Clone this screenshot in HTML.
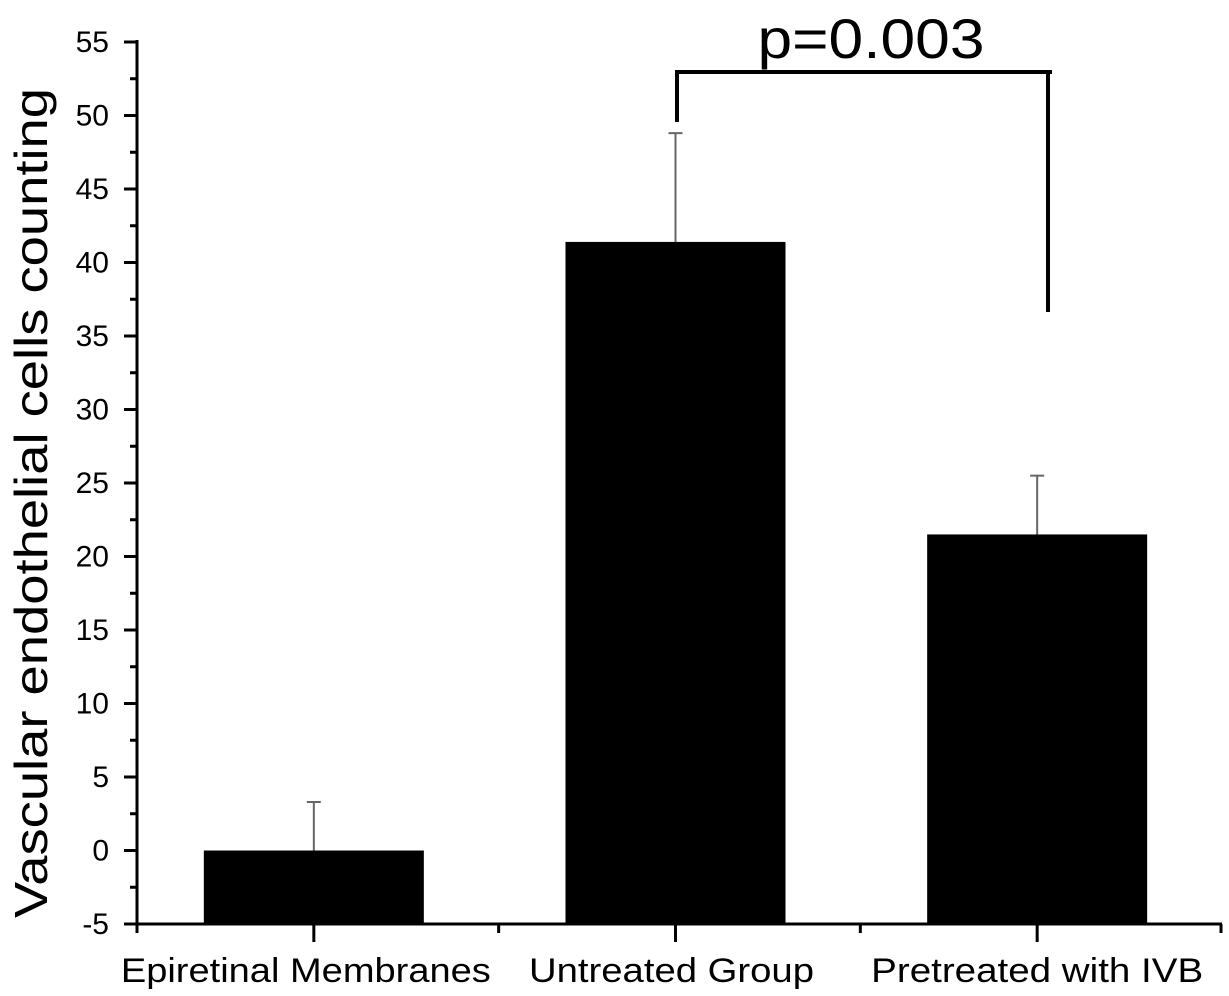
<!DOCTYPE html>
<html><head><meta charset="utf-8"><style>
body{margin:0;background:#fff}
svg{display:block;font-family:"Liberation Sans",Arial,sans-serif}
</style></head><body>
<svg id="chart" width="1229" height="996" viewBox="0 0 1229 996" xmlns="http://www.w3.org/2000/svg">
<g id="axes"></g>
<g id="bars"></g>
<text transform="translate(47,503) rotate(-90)" text-anchor="middle" font-size="46" textLength="830" lengthAdjust="spacingAndGlyphs" fill="#000">Vascular endothelial cells counting</text>
<g stroke="#000" stroke-width="4" fill="none">
<polyline points="677,122 677,72 1052,72 1048,72 1048,312"/>
</g>
<text x="871" y="58" text-anchor="middle" font-size="56" textLength="227" lengthAdjust="spacingAndGlyphs" fill="#000">p=0.003</text>
</svg>
<script>
const categories = ["Epiretinal Membranes", "Untreated Group", "Pretreated with IVB"];
const values = [0, 41.4, 21.5];
const errors = [3.3, 7.4, 4.0];
const yTicks = [-5, 0, 5, 10, 15, 20, 25, 30, 35, 40, 45, 50, 55];
const labelLengths = [370, 285, 332];

const NS = "http://www.w3.org/2000/svg";
const x0 = 137, x1 = 1222;
const yMin = -5, yMax = 55, yBot = 924, yTop = 42;
function y(v){ return yBot - (v - yMin) / (yMax - yMin) * (yBot - yTop); }
const catW = (x1 - x0) / categories.length;
function xc(i){ return x0 + catW * (i + 0.5) - 4; }
const barW = 220;
function mk(tag, attrs, parent){ const e = document.createElementNS(NS, tag); for (const k in attrs) e.setAttribute(k, attrs[k]); parent.appendChild(e); return e; }

const axes = document.getElementById('axes');
const bars = document.getElementById('bars');

let yl = mk('line', {x1:x0, y1:yTop-2, x2:x0, y2:yBot+9, stroke:'#000','stroke-width':3}, axes);


let xl = mk('line', {x1:x0, y1:yBot, x2:x1, y2:yBot, stroke:'#000','stroke-width':3}, axes);



yTicks.forEach(function(t){
  const tk = mk('line', {x1:x0-13, y1:y(t), x2:x0, y2:y(t), stroke:'#000','stroke-width':3}, axes);
  
  
  const lb = mk('text', {x:x0-28, y:y(t)+10, 'text-anchor':'end','font-size':30, fill:'#000'}, axes);
  lb.textContent = t;
  
  
  if (t < yMax) {
    const mn = mk('line', {x1:x0-7, y1:y(t+2.5), x2:x0, y2:y(t+2.5), stroke:'#000','stroke-width':3}, axes);
    
    
  }
});

for (let i = 0; i <= categories.length; i++) {
  const bx = x0 + catW * i;
  const mt = mk('line', {x1:Math.min(bx, x1-1), y1:yBot, x2:Math.min(bx, x1-1), y2:yBot+9, stroke:'#000','stroke-width':3}, axes);
  
  
}

categories.forEach(function(c, i){
  const cx = xc(i);
  const tk = mk('line', {x1:cx, y1:yBot, x2:cx, y2:yBot+18, stroke:'#000','stroke-width':3}, axes);
  
  
  const lb = mk('text', {x:cx - 8 + i*4, y:yBot+58, 'text-anchor':'middle','font-size':34, textLength:labelLengths[i], lengthAdjust:'spacingAndGlyphs', fill:'#000'}, axes);
  lb.textContent = c;
  
  

  const eb = mk('line', {x1:cx, y1:y(values[i]), x2:cx, y2:y(values[i]+errors[i]), stroke:'#666','stroke-width':2}, bars);
  
  
  const cap = mk('line', {x1:cx-7, y1:y(values[i]+errors[i]), x2:cx+7, y2:y(values[i]+errors[i]), stroke:'#666','stroke-width':2}, bars);
  
  
  const r = mk('rect', {x:cx-barW/2, y:y(values[i]), width:barW, height:yBot - y(values[i]), fill:'#000'}, bars);
  
  
});
</script>
</body></html>
